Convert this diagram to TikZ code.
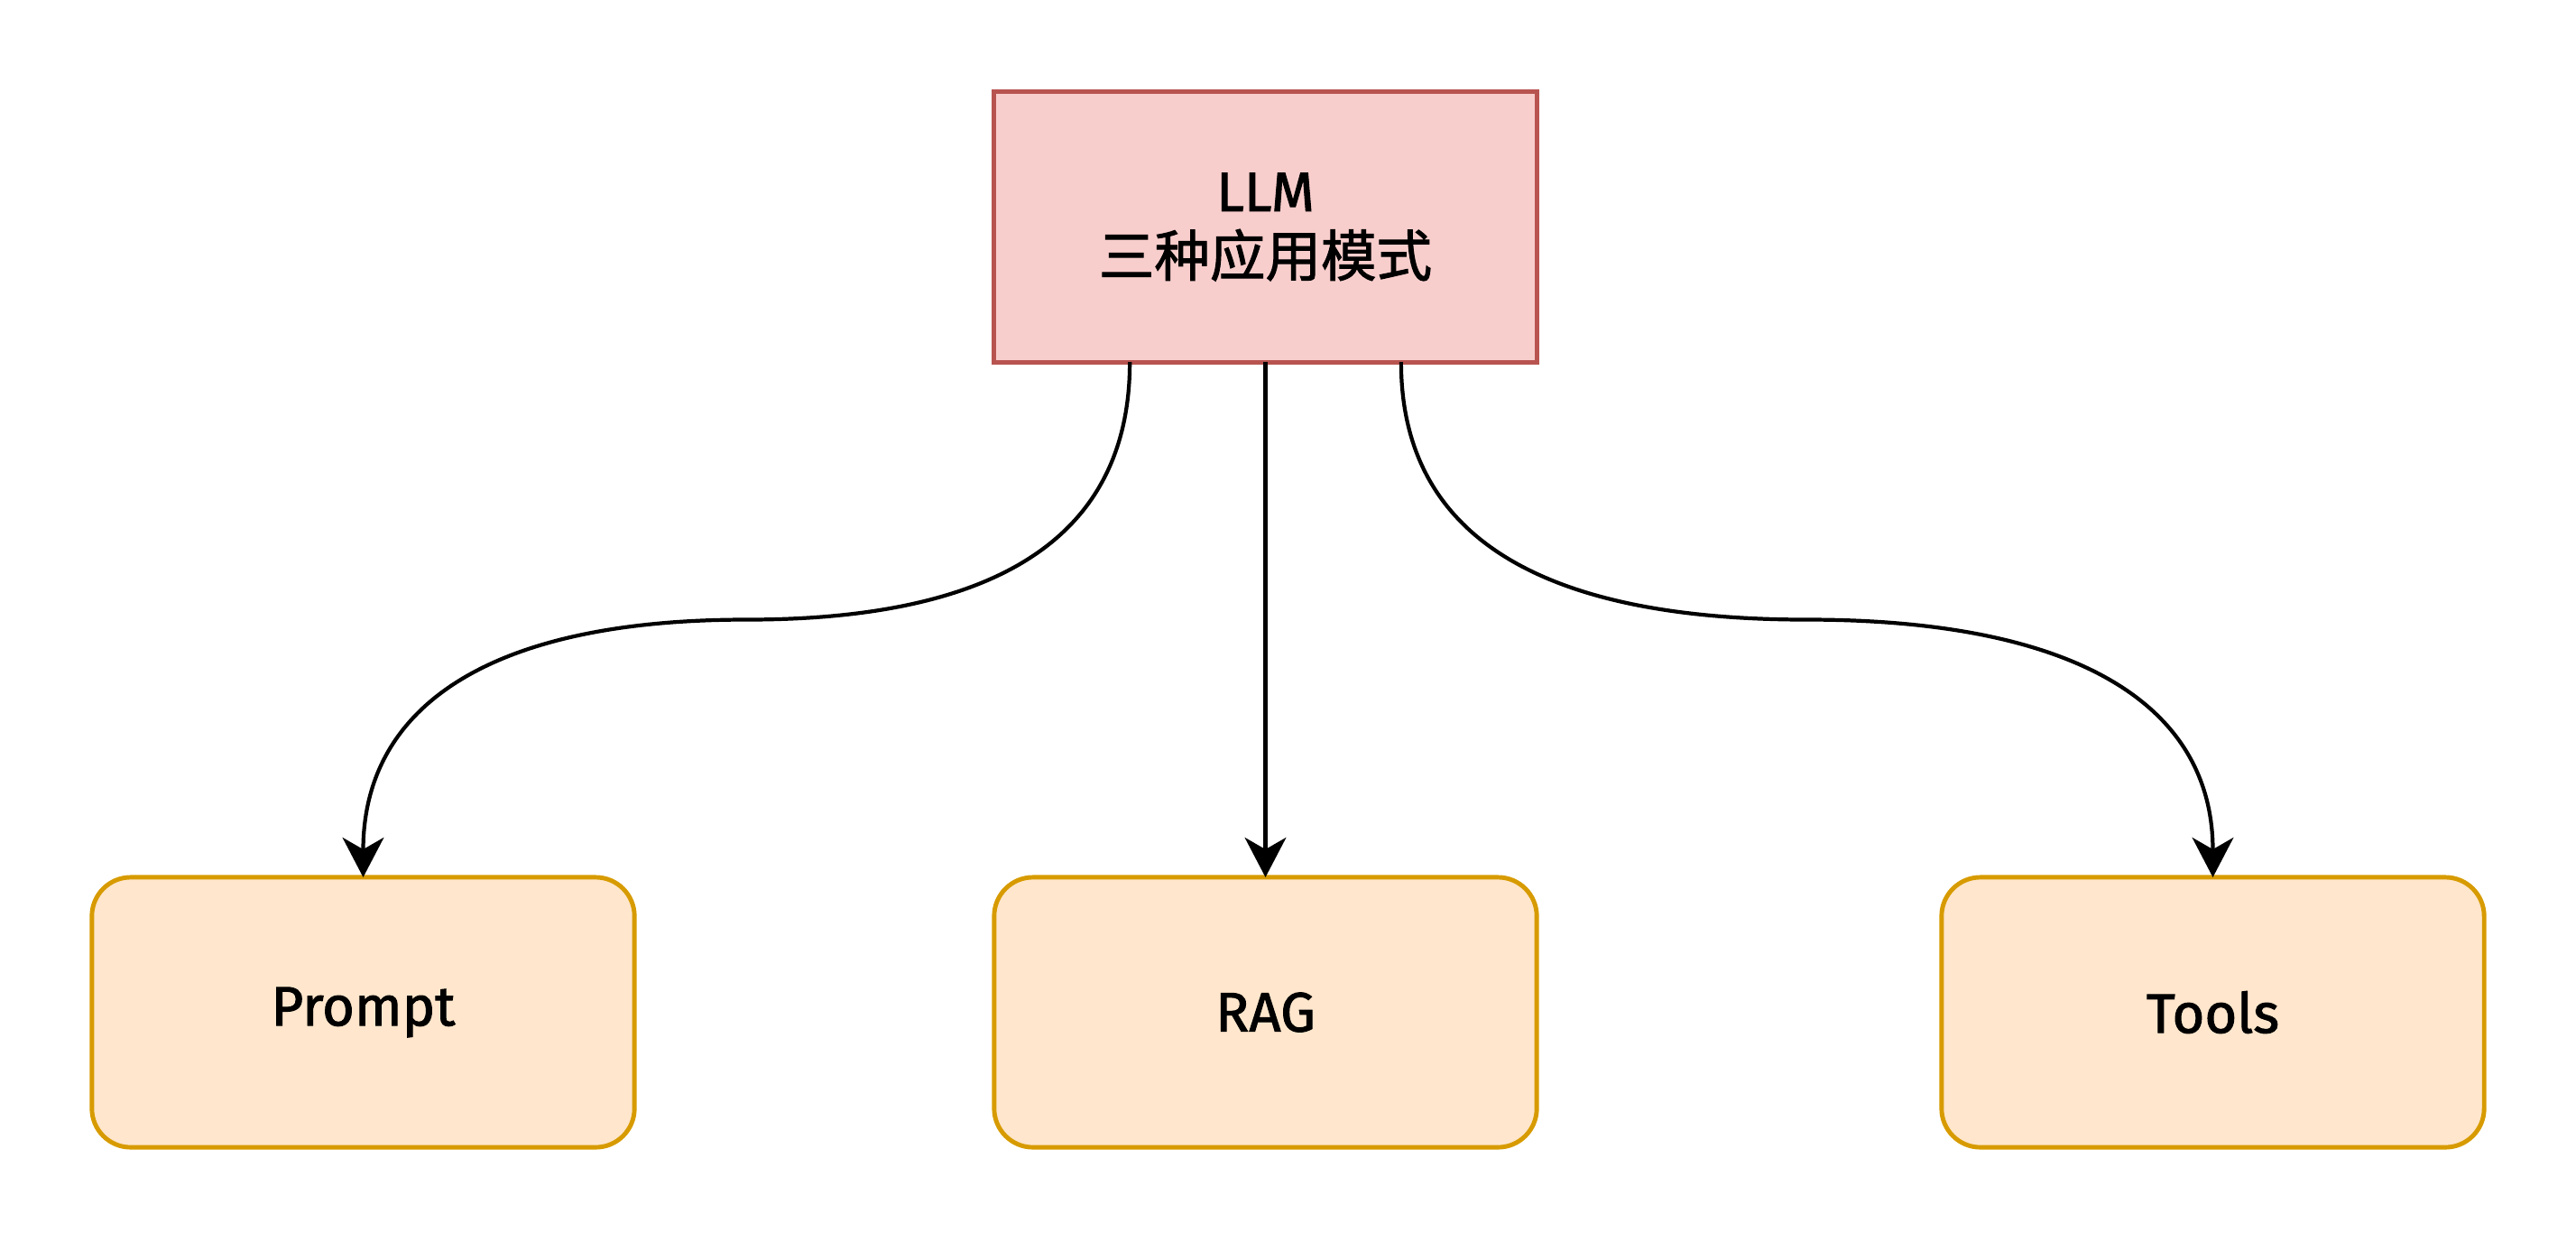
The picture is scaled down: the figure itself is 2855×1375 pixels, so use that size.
\documentclass[tikz,border=0pt]{standalone}
\usepackage{fontspec}
\setmainfont{Fira Sans}[FakeBold=1.6]
\newfontfamily\cjk{Noto Sans CJK SC}[FakeBold=1.6]
\usetikzlibrary{arrows.meta}
\definecolor{redfill}{HTML}{F8CECC}
\definecolor{redline}{HTML}{B85450}
\definecolor{orfill}{HTML}{FFE6CC}
\definecolor{orline}{HTML}{D79B00}
\tikzset{
  topbox/.style={draw=redline, fill=redfill, line width=1.4pt, minimum width=6.01cm, minimum height=2.99cm, inner sep=0pt, outer sep=0pt, align=center, font=\fontsize{17.5}{20.5}\selectfont},
  leafbox/.style={draw=orline, fill=orfill, line width=1.4pt, rounded corners=0.43cm, minimum width=6.01cm, minimum height=2.99cm, inner sep=0pt, outer sep=0pt, font=\fontsize{17.5}{21}\selectfont},
  conn/.style={draw=black, line width=1.2pt, -{Stealth[length=12.5pt, width=13pt, inset=3.7pt]}}
}
\begin{document}
\begin{tikzpicture}[x=0.01cm, y=-0.01cm]
\useasboundingbox (0,0) rectangle (2855,1375);
\node[topbox] (top) at (1402.5,251.5) {LLM\\{\cjk 三种应用模式}};
\node[leafbox] (prompt) at (402.5,1121.5) {Prompt};
\node[leafbox] (rag) at (1402.5,1121.5) {RAG};
\node[leafbox] (tools) at (2452.5,1121.5) {Tools};
\coordinate (s1) at ([xshift=-1.5025cm]top.south);
\coordinate (s3) at ([xshift=1.5025cm]top.south);
\coordinate (m1) at (827.25,686.5);
\coordinate (m3) at (2002.75,686.5);
\draw[conn] (s1) .. controls +(0,190.3) and +(283.2,0) .. (m1)
  .. controls +(-283.2,0) and +(0,-190.3) .. (prompt.north);
\draw[conn] (top.south) -- (rag.north);
\draw[conn] (s3) .. controls +(0,190.3) and +(-299.8,0) .. (m3)
  .. controls +(299.8,0) and +(0,-190.3) .. (tools.north);
\end{tikzpicture}
\end{document}
